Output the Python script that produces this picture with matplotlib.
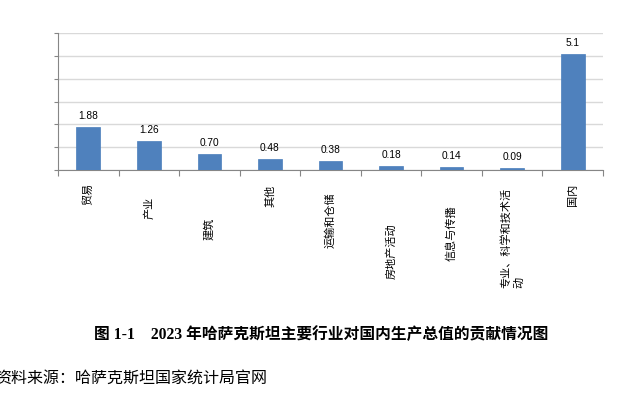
import numpy as np
import matplotlib
matplotlib.use("Agg")
import matplotlib.pyplot as plt

plt.rcParams['font.family'] = ['Noto Sans CJK SC', 'DejaVu Sans']

# 数据
hangye = ['贸易', '产业', '建筑', '其他', '运输和仓储', '房地产活动',
          '信息与传播', '专业、科学和技术活\n动', '国内']
gongxian = [1.88, 1.26, 0.70, 0.48, 0.38, 0.18, 0.14, 0.09, 5.1]
zhi_biaoqian = ['1.88', '1.26', '0.70', '0.48', '0.38', '0.18', '0.14', '0.09', '5.1']

# 类别标签离横轴的距离(像素)，原图里各不相同
label_gap = [13, 27, 48, 15, 22, 53, 35, 18, 14]

fig = plt.figure(figsize=(6.22, 3.93), dpi=100)
ax = fig.add_axes([0.0932, 0.5674, 0.8763, 0.3486])

x = np.arange(len(hangye))
ax.bar(x, gongxian, width=0.39, color='#4F81BD', edgecolor='#4A7EBB',
       linewidth=0.5, zorder=3)

ax.set_xlim(-0.5, len(hangye) - 0.5)
ax.set_ylim(0, 6)
ax.set_yticks(np.arange(0, 7, 1))
ax.set_yticklabels([])
ax.yaxis.grid(True, color='#d9d9d9', linewidth=1)
ax.set_axisbelow(True)

ax.set_xticks(np.arange(-0.5, len(hangye), 1))
ax.set_xticklabels([])
ax.tick_params(axis='x', length=4, color='#868686', width=0.8)
ax.tick_params(axis='y', length=3, color='#868686', width=0.8)

for s in ['top', 'right']:
    ax.spines[s].set_visible(False)
for s in ['left', 'bottom']:
    ax.spines[s].set_color('#868686')
    ax.spines[s].set_linewidth(0.8)

# 数值标签
for xi, v, t in zip(x, gongxian, zhi_biaoqian):
    ax.annotate(t, (xi, v), xytext=(0, 6), textcoords='offset pixels',
                ha='center', va='bottom', fontsize=7.3,
                family=['Liberation Sans', 'DejaVu Sans'])

# 类别标签(竖排，自下而上)
for xi, name, gap in zip(x, hangye, label_gap):
    ax.annotate(name, (xi, 0), xycoords=('data', 'axes fraction'),
                xytext=(0, -gap), textcoords='offset pixels',
                rotation=90, ha='center', va='top', multialignment='left',
                fontsize=8, linespacing=1.3, annotation_clip=False)

fig.text(0.516, 1 - 335 / 393, '图 1-1    2023 年哈萨克斯坦主要行业对国内生产总值的贡献情况图',
         ha='center', va='center', fontsize=11.3, fontweight='bold',
         family=['Liberation Serif', 'Noto Sans CJK SC'])
fig.text(-0.008, 1 - 378 / 393, '资料来源：哈萨克斯坦国家统计局官网',
         ha='left', va='center', fontsize=11.5)

plt.savefig('out.png', dpi=100)
